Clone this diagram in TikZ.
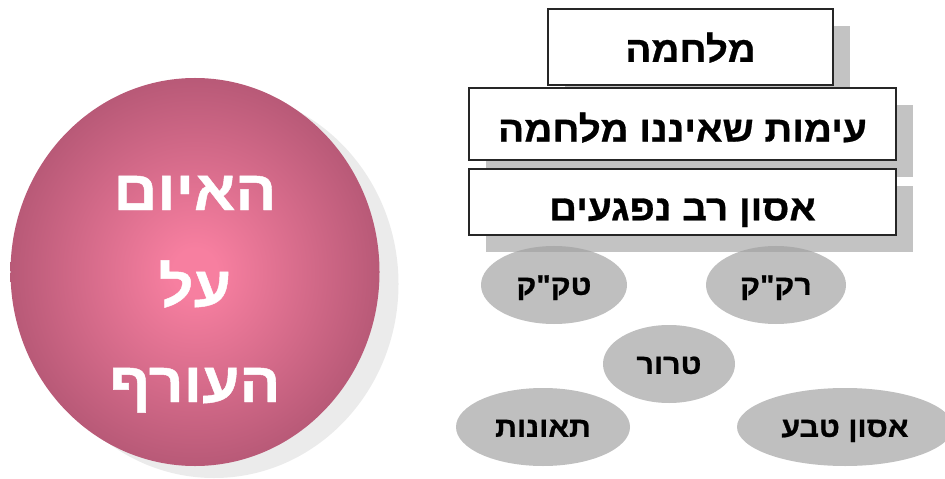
\documentclass[tikz,border=0pt]{standalone}
\usepackage{fontspec}
\newfontfamily\hebfont[Script=Hebrew, FakeStretch=1.08, BoldFeatures={FakeBold=0.8}]{Liberation Sans}
\TeXXeTstate=1
\usetikzlibrary{shapes.geometric,shadows}
\definecolor{pinkin}{HTML}{F77FA0}
\definecolor{pinkout}{HTML}{AA516E}
\definecolor{boxshadow}{HTML}{C3C3C3}
\definecolor{ballshadow}{HTML}{EBEBEB}
\definecolor{ovalgray}{HTML}{A0A0A0}
\pgfdeclareradialshading{ballshade}{\pgfpoint{0bp}{0bp}}{color(0bp)=(pinkin); color(3bp)=(pinkin); color(30bp)=(pinkout); color(50bp)=(pinkout)}
\newcommand{\heb}[1]{\beginR #1\endR}

\begin{document}
\begin{tikzpicture}[x=0.25mm, y=-0.25mm,
  ball/.style={ellipse, minimum width=92.25mm, minimum height=97mm, shading=ballshade,
    drop shadow={shadow xshift=4.75mm, shadow yshift=-3mm, fill=ballshadow, opacity=1}},
  balltext/.style={anchor=base, text=white, font=\hebfont\bfseries\fontsize{40}{44}\selectfont},
  level/.style={draw=black!85, line width=1pt, fill=white, inner sep=0pt,
    text height=21pt, text depth=0pt, font=\hebfont\bfseries\fontsize{25.5}{30}\selectfont,
    drop shadow={shadow xshift=4.25mm, shadow yshift=-4.25mm, fill=boxshadow, opacity=1}},
  threat/.style={ellipse, fill=ovalgray, fill opacity=0.68, text opacity=1, inner sep=0pt,
    minimum height=19.5mm, text height=14pt, text depth=0pt,
    font=\hebfont\bfseries\fontsize{20}{24}\selectfont}]
  \useasboundingbox (0,0) rectangle (945,479);
  % The threat
  \node[ball] (ball) at (195,272) {};
  \node[balltext] (t1) at (195,210) {\heb{האיום}};
  \node[balltext] (t2) at (195,306) {\heb{על}};
  \node[balltext] (t3) at (195,402) {\heb{העורף}};
  % Levels
  \node[level, minimum width=71.25mm, minimum height=19mm] (war) at (690.5,47) {\heb{מלחמה}};
  \node[level, minimum width=106.75mm, minimum height=18mm, text height=25pt] (conflict) at (682.5,124) {\heb{עימות שאיננו מלחמה}};
  \node[level, minimum width=106.75mm, minimum height=16.5mm, text height=26pt] (disaster) at (682.5,202) {\heb{אסון רב נפגעים}};
  % Kinds of events
  \node[threat, minimum width=36.5mm] (tkk) at (554,285) {\heb{טק"ק}};
  \node[threat, minimum width=35mm] (rkk) at (776,285) {\heb{רק"ק}};
  \node[threat, minimum width=33mm] (terror) at (669,364) {\heb{טרור}};
  \node[threat, minimum width=43.5mm] (accidents) at (543,427) {\heb{תאונות}};
  \node[threat, minimum width=54mm] (nature) at (845,427) {\heb{אסון טבע}};
\end{tikzpicture}
\end{document}
